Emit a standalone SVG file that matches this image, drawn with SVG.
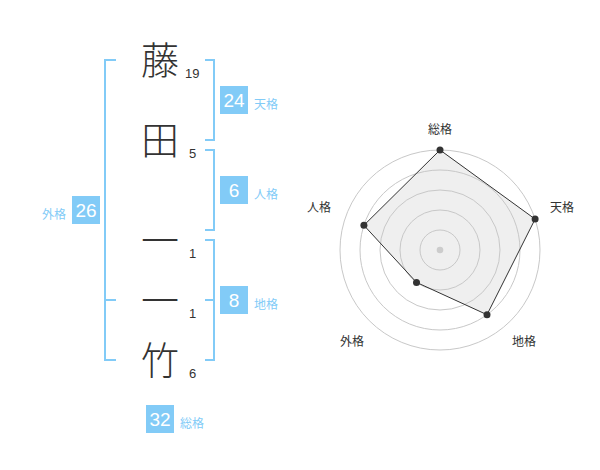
<svg xmlns="http://www.w3.org/2000/svg" width="600" height="470" viewBox="0 0 600 470">
<style>
.ch{font-family:"Noto Sans CJK JP","Noto Sans CJK SC",sans-serif;font-size:38px;font-weight:300;fill:#333;text-anchor:middle}
.num{font-family:"Liberation Sans",Arial,sans-serif;font-size:13px;fill:#333}
.br{fill:none;stroke:#82cbf7;stroke-width:2}
.box{fill:#82cbf7}
.bn{font-family:"Liberation Sans",Arial,sans-serif;font-size:19px;fill:#fff;text-anchor:middle}
.lb{font-family:"Noto Sans CJK JP","Noto Sans CJK SC",sans-serif;font-size:12px;fill:#82cbf7}
.ring{fill:none;stroke:#c8c8c8;stroke-width:1}
.rl{font-family:"Noto Sans CJK JP","Noto Sans CJK SC",sans-serif;font-size:12px;fill:#333;text-anchor:middle}
.dot{fill:#333}
</style>
<rect width="600" height="470" fill="#fff"/>
<g id="name">
<g id="c1"><text class="ch" x="160" y="74">藤</text><text class="num" x="185" y="78">19</text></g>
<g id="c2"><text class="ch" x="160" y="154">田</text><text class="num" x="189" y="158">5</text></g>
<g id="c3"><text class="ch" x="160" y="254">一</text><text class="num" x="189" y="258">1</text></g>
<g id="c4"><text class="ch" x="160" y="314">一</text><text class="num" x="189" y="318">1</text></g>
<g id="c5"><text class="ch" x="160" y="374">竹</text><text class="num" x="189" y="378">6</text></g>
</g>
<g id="connectors">
<path class="br" d="M116,60 H105 V360 H116 M105,300 H116"/>
<path class="br" d="M205,60 H214 V140 H205"/>
<path class="br" d="M205,150 H214 V230 H205"/>
<path class="br" d="M205,240 H214 V360 H205 M214,300 H205"/>
</g>
<g id="tenkaku"><rect class="box" x="220" y="86" width="28" height="28"/><text class="bn" x="234" y="107">24</text><text class="lb" x="254" y="109">天格</text></g>
<g id="jinkaku"><rect class="box" x="220" y="176" width="28" height="28"/><text class="bn" x="234" y="197">6</text><text class="lb" x="254" y="199">人格</text></g>
<g id="chikaku"><rect class="box" x="220" y="286" width="28" height="28"/><text class="bn" x="234" y="307">8</text><text class="lb" x="254" y="309">地格</text></g>
<g id="gaikaku"><rect class="box" x="72" y="196" width="28" height="28"/><text class="bn" x="86" y="217">26</text><text class="lb" x="42" y="219">外格</text></g>
<g id="soukaku"><rect class="box" x="146" y="405" width="28" height="28"/><text class="bn" x="160" y="426">32</text><text class="lb" x="180" y="428">総格</text></g>
<g id="radar">
<polygon points="440,150 535.1,219.1 487,314.7 416.5,282.4 363.9,225.3" fill="#efefef"/>
<circle class="ring" cx="440" cy="250" r="20"/>
<circle class="ring" cx="440" cy="250" r="40"/>
<circle class="ring" cx="440" cy="250" r="60"/>
<circle class="ring" cx="440" cy="250" r="80"/>
<circle class="ring" cx="440" cy="250" r="100"/>
<polygon points="440,150 535.1,219.1 487,314.7 416.5,282.4 363.9,225.3" fill="none" stroke="#333" stroke-width="1"/>
<circle cx="440" cy="250" r="3.3" fill="#ccc"/>
<circle class="dot" cx="440" cy="150" r="3.5"/>
<circle class="dot" cx="535.1" cy="219.1" r="3.5"/>
<circle class="dot" cx="487" cy="314.7" r="3.5"/>
<circle class="dot" cx="416.5" cy="282.4" r="3.5"/>
<circle class="dot" cx="363.9" cy="225.3" r="3.5"/>
<text class="rl" x="440" y="134">総格</text>
<text class="rl" x="562" y="212">天格</text>
<text class="rl" x="524" y="346">地格</text>
<text class="rl" x="352" y="346">外格</text>
<text class="rl" x="319" y="212">人格</text>
</g>
</svg>
